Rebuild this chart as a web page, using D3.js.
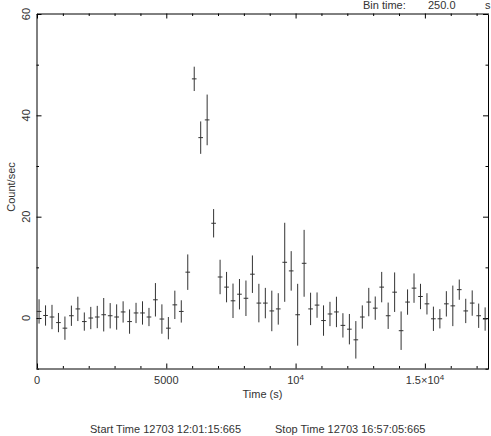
<!DOCTYPE html>
<html>
<head>
<meta charset="utf-8">
<script src="https://cdn.jsdelivr.net/npm/d3@7"></script>
<style>
  body { margin: 0; background: #fff; }
  svg { display: block; }
  text { font-family: "Liberation Sans", Arial, sans-serif; font-size: 11px; fill: #333; }
</style>
</head>
<body>
<svg id="chart" width="491" height="436"></svg>
<script>
// bin centres (s), count rate and 1-sigma error
const binTimes = [80, 330, 580, 830, 1080, 1330, 1580, 1830, 2080, 2330,
    2580, 2830, 3080, 3330, 3580, 3830, 4080, 4330, 4580, 4830,
    5080, 5330, 5580, 5830, 6080, 6330, 6580, 6830, 7080, 7330,
    7580, 7830, 8080, 8330, 8580, 8830, 9080, 9330, 9580, 9830,
    10080, 10330, 10580, 10830, 11080, 11330, 11580, 11830, 12080, 12330,
    12580, 12830, 13080, 13330, 13580, 13830, 14080, 14330, 14580, 14830,
    15080, 15330, 15580, 15830, 16080, 16330, 16580, 16830, 17080, 17330];
const rates = [1.3, 0.5, 0.2, -0.9, -2.0, 0.45, 1.8, -0.7, 0.0, 0.2,
    0.65, 0.45, 0.2, 1.2, -0.7, 1.0, 1.0, 0.2, 3.6, -0.2,
    -2.0, 2.6, 1.3, 9.05, 47.2, 35.6, 39.1, 18.7, 8.1, 6.1,
    3.4, 4.7, 3.9, 8.65, 2.95, 2.95, 1.4, 1.8, 11.0, 9.3,
    0.65, 10.8, 1.8, 2.55, -0.5, 0.8, 1.2, -1.45, -2.2, -4.3,
    0.2, 3.15, 1.95, 6.1, 0.45, 5.1, -2.5, 3.15, 5.9, 4.25,
    2.8, -0.15, -0.15, 2.8, 2.4, 5.6, 1.4, 2.95, 0.45, -0.2];
const errors = [2.4, 2.0, 2.4, 1.9, 2.3, 2.0, 2.4, 1.8, 2.2, 2.2,
    3.3, 2.5, 2.5, 2.1, 2.4, 2.0, 2.3, 1.8, 3.3, 2.9,
    2.2, 2.8, 2.2, 3.5, 2.4, 3.2, 5.0, 2.8, 3.4, 3.0,
    3.4, 3.0, 3.5, 3.7, 3.8, 3.0, 4.0, 3.1, 7.8, 3.9,
    6.1, 6.6, 3.2, 2.5, 3.0, 2.4, 3.0, 2.4, 3.0, 3.7,
    2.3, 2.8, 2.3, 3.0, 2.6, 3.9, 3.8, 2.5, 2.9, 2.5,
    2.1, 2.4, 1.9, 2.5, 4.0, 2.0, 2.4, 2.5, 2.4, 2.3];

const xMajor = [0, 5000, 10000, 15000];
const xMinor = [1000, 2000, 3000, 4000, 6000, 7000, 8000, 9000, 11000, 12000, 13000, 14000, 16000, 17000];
const xLabels = [["0", ""], ["5000", ""], ["10", "4"], ["1.5\u00d710", "4"]];
const yMajor = [0, 20, 40, 60];
const yMinor = [-10, 10, 30, 50];
const yLabels = ["0", "20", "40", "60"];

const binTime = 250;
const capHalf = 90;

const svg = d3.select("#chart");

const x = d3.scaleLinear().domain([0, 17460]).range([37, 488.5]);
const y = d3.scaleLinear().domain([-10, 60]).range([368.7, 14]);

function drawAxis(axis, tx, ty, values, size) {
    const g = svg.append("g")
        .attr("transform", `translate(${tx},${ty})`)
        .call(axis.tickValues(values).tickSize(size).tickSizeOuter(0).tickFormat(""));
    g.selectAll("line").attr("stroke", "#000");
    g.select(".domain").attr("stroke", "#000");
    return g;
}

// frame + ticks, all pointing inward
drawAxis(d3.axisTop(x), 0, 368.5, xMajor, 5);
drawAxis(d3.axisTop(x), 0, 368.5, xMinor, 2.5).select(".domain").remove();
drawAxis(d3.axisBottom(x), 0, 13.5, xMajor, 5);
drawAxis(d3.axisBottom(x), 0, 13.5, xMinor, 2.5).select(".domain").remove();
drawAxis(d3.axisRight(y), 36.5, 0, yMajor, 5);
drawAxis(d3.axisRight(y), 36.5, 0, yMinor, 2.5).select(".domain").remove();
drawAxis(d3.axisLeft(y), 488, 0, yMajor, 5);
drawAxis(d3.axisLeft(y), 488, 0, yMinor, 2.5).select(".domain").remove();

// tick labels, with superscript exponent where needed
const xl = svg.append("g").selectAll("text")
    .data(xMajor.map((v, i) => ({ v: v, base: xLabels[i][0], exp: xLabels[i][1] })))
    .enter().append("text")
    .attr("x", d => x(d.v))
    .attr("y", 384)
    .attr("text-anchor", "middle");
xl.append("tspan").text(d => d.base);
xl.filter(d => d.exp !== "")
    .append("tspan")
    .attr("dy", -4)
    .style("font-size", "8px")
    .text(d => d.exp);

svg.append("g").selectAll("text")
    .data(yMajor)
    .enter().append("text")
    .attr("transform", d => `translate(26,${y(d)}) rotate(-90)`)
    .attr("text-anchor", "middle")
    .attr("dy", "0.35em")
    .text((d, i) => yLabels[i]);

// titles
svg.append("text")
    .attr("x", 262.5).attr("y", 398)
    .attr("text-anchor", "middle")
    .text("Time (s)");

svg.append("text")
    .attr("transform", "translate(11,187) rotate(-90)")
    .attr("text-anchor", "middle")
    .attr("dy", "0.35em")
    .text("Count/sec");

svg.append("text").attr("x", 90).attr("y", 433).text("Start Time 12703 12:01:15:665");
svg.append("text").attr("x", 275).attr("y", 433).text("Stop Time 12703 16:57:05:665");

svg.append("text").attr("x", 363).attr("y", 8.5).text("Bin time:");
svg.append("text").attr("x", 428).attr("y", 8.5).text(binTime.toFixed(1));
svg.append("text").attr("x", 485).attr("y", 8.5).text("s");

// error-bar crosses
const data = binTimes.map((t, i) => ({ t: t, v: rates[i], e: errors[i] }));

const marks = svg.append("g")
    .attr("stroke", "#333")
    .attr("stroke-width", 1);

marks.selectAll("line.ey")
    .data(data)
    .enter().append("line")
    .attr("class", "ey")
    .attr("x1", d => x(d.t)).attr("x2", d => x(d.t))
    .attr("y1", d => y(d.v - d.e)).attr("y2", d => y(d.v + d.e));

marks.selectAll("line.ex")
    .data(data)
    .enter().append("line")
    .attr("class", "ex")
    .attr("x1", d => x(d.t - capHalf)).attr("x2", d => x(d.t + capHalf))
    .attr("y1", d => y(d.v)).attr("y2", d => y(d.v));
</script>
</body>
</html>
